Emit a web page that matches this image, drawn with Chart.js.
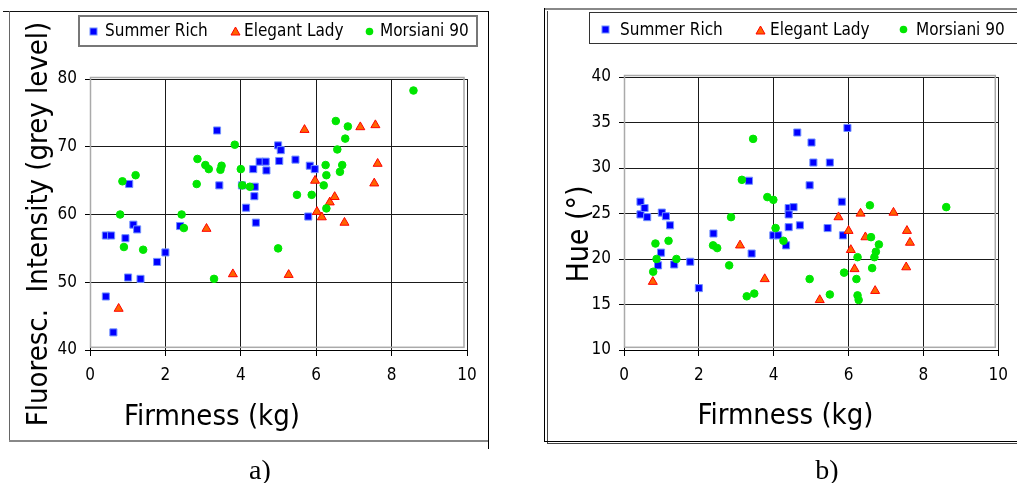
<!DOCTYPE html>
<html><head><meta charset="utf-8">
<script src="https://cdn.jsdelivr.net/npm/chart.js@4/dist/chart.umd.min.js"></script>
<style>
html,body{margin:0;padding:0;background:#fff;width:1017px;height:483px;overflow:hidden;position:relative;font-family:'DejaVu Sans Condensed','Liberation Sans',sans-serif;}
.ln{position:absolute;}
canvas{position:absolute;top:0;}
.legend{position:absolute;box-sizing:border-box;background:#fff;z-index:5;}
.mk{position:absolute;z-index:6;line-height:0;}
.mk svg{display:block;}
.lt{position:absolute;z-index:6;font-size:17px;line-height:17px;color:#000;white-space:nowrap;}
.cap{position:absolute;width:100px;text-align:center;font-family:'Liberation Serif','Times New Roman',serif;font-size:28px;line-height:28px;color:#000;}
</style>
</head><body>
<!-- frame a -->
<div class="ln" style="left:3px;top:11px;width:486px;height:1px;background:#111"></div>
<div class="ln" style="left:9px;top:11px;width:1px;height:430px;background:#666"></div>
<div class="ln" style="left:9px;top:440px;width:480px;height:2px;background:#888"></div>
<div class="ln" style="left:488px;top:11px;width:1px;height:438px;background:#000"></div>
<!-- frame b -->
<div class="ln" style="left:544px;top:8px;width:473px;height:2px;background:#888"></div>
<div class="ln" style="left:544px;top:8px;width:1px;height:434px;background:#000"></div>
<div class="ln" style="left:547px;top:11px;width:1px;height:432px;background:#444"></div>
<div class="ln" style="left:544px;top:441px;width:473px;height:1px;background:#000"></div>
<div class="ln" style="left:547px;top:443px;width:470px;height:1px;background:#444"></div>

<canvas id="ca" width="490" height="483" style="left:0px"></canvas>
<canvas id="cb" width="473" height="483" style="left:544px"></canvas>

<div id="legends"></div>
<div class="cap" style="left:210px;top:456px">a)</div>
<div class="cap" style="left:777px;top:456px">b)</div>

<script>
// ---------- DATA ----------
const seriesNames = ['Summer Rich', 'Elegant Lady', 'Morsiani 90'];
const xTitle = 'Firmness (kg)';
const yTitleA = 'Fluoresc.  Intensity (grey level)';
const yTitleB = 'Hue (\u00B0)';
const xTicks = [0, 2, 4, 6, 8, 10];
const yTicksA = [40, 50, 60, 70, 80];
const yTicksB = [10, 15, 20, 25, 30, 35, 40];

// Panel a) Fluorescence intensity vs firmness
const srA_x = [0.42,0.56,1.04,1.15,1.25,0.94,1.01,1.34,0.42,0.62,1.78,2.00,2.39,3.37,3.43,4.03,4.14,4.33,4.37,4.36,4.40,4.50,4.66,4.68,4.99,5.06,5.02,5.45,5.83,5.96,5.79];
const srA_y = [56.9,56.9,64.5,58.5,57.8,56.5,50.7,50.5,47.9,42.6,53.0,54.4,58.3,72.4,64.3,64.3,61.0,66.7,64.1,62.7,58.8,67.8,67.8,66.5,70.2,69.5,67.9,68.1,67.2,66.7,59.7];
const elA_x = [0.76,3.09,3.79,5.27,5.69,5.97,6.02,6.15,6.36,6.49,6.75,7.17,7.57,7.54,7.63];
const elA_y = [46.1,57.9,51.2,51.1,72.5,65.0,60.4,59.6,61.8,62.6,58.8,72.9,73.2,64.6,67.5];
const msA_x = [0.80,0.86,0.90,1.21,1.41,2.43,2.49,2.83,2.85,3.06,3.15,3.29,3.46,3.49,3.84,4.00,4.04,4.24,4.99,5.49,5.88,6.25,6.27,6.20,6.27,6.52,6.56,6.63,6.69,6.77,6.84,8.58];
const msA_y = [60.0,64.9,55.2,65.8,54.8,60.0,58.0,64.5,68.2,67.3,66.7,50.5,66.6,67.2,70.3,66.7,64.3,64.1,55.0,62.9,62.9,67.3,65.8,64.3,60.9,73.8,69.6,66.3,67.3,71.2,73.0,78.3];

// Panel b) Hue vs firmness
const srB_x = [0.44,0.44,0.55,0.62,1.01,1.12,1.23,0.99,0.91,1.34,1.77,2.00,2.39,3.34,3.41,3.99,4.12,4.33,4.40,4.40,4.40,4.53,4.63,4.70,4.96,5.01,5.06,5.44,5.50,5.82,5.85,5.97];
const srB_y = [26.3,24.9,25.6,24.6,25.1,24.7,23.7,20.7,19.3,19.4,19.7,16.8,22.8,28.6,20.6,22.6,22.6,21.5,25.6,24.9,23.5,25.7,33.9,23.7,28.1,32.8,30.6,23.4,30.6,26.3,22.6,34.4];
const elB_x = [0.77,3.10,3.76,5.23,5.73,6.00,6.06,6.16,6.32,6.45,6.71,7.20,7.56,7.64,7.54];
const elB_y = [17.5,21.5,17.8,15.5,24.6,23.1,21.0,18.9,25.0,22.4,16.5,25.1,23.1,21.8,19.1];
const msB_x = [0.78,0.84,0.87,1.19,1.40,2.38,2.49,2.81,2.86,3.15,3.28,3.45,3.48,3.83,3.99,4.05,4.26,4.96,5.50,5.88,6.21,6.24,6.27,6.24,6.57,6.60,6.63,6.69,6.73,6.81,8.61];
const msB_y = [18.6,21.7,20.0,22.0,20.0,21.5,21.2,19.3,24.6,28.7,15.9,33.2,16.2,26.8,26.5,23.4,22.0,17.8,16.1,18.5,17.8,16.0,15.5,20.2,25.9,22.4,19.0,20.2,20.8,21.6,25.7];

// ---------- STYLE ----------
const FONT = "'DejaVu Sans Condensed','Liberation Sans',sans-serif";
Chart.defaults.font.family = FONT;
Chart.defaults.color = '#000';
const styles = [
  {pointStyle:'rect', radius:5, bg:'#0000FF', bd:'#7090FF', order:2},
  {pointStyle:'triangle', radius:5.2, bg:'#FF6400', bd:'#FF0000', order:1},
  {pointStyle:'circle', radius:3.8, bg:'#00E600', bd:'#00E600', order:0}
];
const zip = (xs, ys) => xs.map((x, i) => ({x: x, y: ys[i]}));

function ds(i, xs, ys) {
  const s = styles[i];
  return {label: seriesNames[i], data: zip(xs, ys), pointStyle: s.pointStyle, pointRadius: s.radius,
    pointHoverRadius: s.radius, backgroundColor: s.bg, borderColor: s.bd, pointBorderWidth: 1, order: s.order, showLine:false};
}

const decor = {
  id: 'decor',
  beforeDatasetsDraw(chart, args, o) {
    const ca = chart.chartArea, ctx = chart.ctx;
    ctx.save();
    ctx.strokeStyle = '#aaaaaa'; ctx.lineWidth = 1.5;
    ctx.strokeRect(ca.left + 0.5, ca.top - 1.5, ca.right - ca.left - 3.5, ca.bottom - ca.top - 1.2);
    ctx.restore();
  },
  afterDraw(chart, args, o) {
    const ctx = chart.ctx;
    ctx.save();
    ctx.fillStyle = '#000';
    ctx.textBaseline = 'alphabetic';
    ctx.textAlign = 'center';
    ctx.font = o.xSize + 'px ' + FONT;
    ctx.fillText(o.xText, o.xPos[0], o.xPos[1]);
    ctx.translate(o.yPos[0], o.yPos[1]);
    ctx.rotate(-Math.PI / 2);
    ctx.font = o.ySize + 'px ' + FONT;
    ctx.fillText(o.yText, 0, 0);
    ctx.restore();
  }
};

function makeChart(id, datasets, yTicks, yMin, yMax, yWidth, pad, titles) {
  return new Chart(document.getElementById(id), {
    type: 'scatter',
    data: {datasets: datasets},
    plugins: [decor],
    options: {
      responsive: false, animation: false, devicePixelRatio: 1,
      layout: {padding: pad},
      plugins: {legend: {display: false}, tooltip: {enabled: false}, decor: titles},
      scales: {
        x: {type: 'linear', min: 0, max: 10,
          afterBuildTicks: s => { s.ticks = xTicks.map(v => ({value: v})); },
          afterFit: s => { s.height = 133; },
          grid: {color: '#1a1a1a', lineWidth: 1, tickLength: 6, tickColor: '#000'},
          border: {color: '#000', width: 1},
          ticks: {color: '#000', font: {size: 17}, padding: 9, maxRotation: 0, autoSkip: false}},
        y: {type: 'linear', min: yMin, max: yMax,
          afterBuildTicks: s => { s.ticks = yTicks.map(v => ({value: v})); },
          afterFit: s => { s.width = yWidth; },
          grid: {color: '#1a1a1a', lineWidth: 1, tickLength: 5, tickColor: '#000'},
          border: {color: '#000', width: 1},
          ticks: {color: '#000', font: {size: 17}, padding: 8, autoSkip: false}}
      }
    }
  });
}

makeChart('ca', [ds(0, srA_x, srA_y), ds(1, elA_x, elA_y), ds(2, msA_x, msA_y)], yTicksA, 40, 80, 90,
  {left: 0, top: 79, right: 23, bottom: 0},
  {xText: xTitle, xSize: 29, xPos: [212, 425], yText: yTitleA, ySize: 29, yPos: [47, 224]});
makeChart('cb', [ds(0, srB_x, srB_y), ds(1, elB_x, elB_y), ds(2, msB_x, msB_y)], yTicksB, 10, 40, 80,
  {left: 0, top: 77, right: 14, bottom: 0},
  {xText: xTitle, xSize: 29, xPos: [785.5 - 544, 423.5], yText: yTitleB, ySize: 30, yPos: [587.5 - 544, 234]});

// ---------- LEGENDS (HTML) ----------
function markerSvg(i) {
  const s = styles[i];
  if (i === 0) return `<svg width="9" height="9"><rect x="1" y="1" width="7" height="7" fill="${s.bg}" stroke="${s.bd}" stroke-width="1"/></svg>`;
  if (i === 1) return `<svg width="11" height="10"><polygon points="5.5,1 10,9 1,9" fill="${s.bg}" stroke="${s.bd}" stroke-width="1"/></svg>`;
  return `<svg width="9" height="9"><circle cx="4.5" cy="4.5" r="3.8" fill="${s.bg}"/></svg>`;
}
const legendDefs = [
  {box: [78, 15, 400, 32, '2px solid #777'], cy: 31, mk: [93, 235.5, 369.5], tx: [105, 244, 380]},
  {box: [589, 12, 440, 32, '1px solid #333'], cy: 29.5, mk: [605, 760, 903.5], tx: [620, 770, 916]}
];
const L = document.getElementById('legends');
legendDefs.forEach(d => {
  let h = `<div class="legend" style="left:${d.box[0]}px;top:${d.box[1]}px;width:${d.box[2]}px;height:${d.box[3]}px;border:${d.box[4]}"></div>`;
  seriesNames.forEach((n, i) => {
    const w = i === 1 ? 11 : 9, hh = i === 1 ? 10 : 9;
    h += `<div class="mk" style="left:${d.mk[i] - w / 2}px;top:${d.cy - hh / 2}px;width:${w}px;height:${hh}px">${markerSvg(i)}</div>`;
    h += `<div class="lt" style="left:${d.tx[i]}px;top:${d.cy - 9}px">${n}</div>`;
  });
  L.insertAdjacentHTML('beforeend', h);
});
</script>
</body></html>
